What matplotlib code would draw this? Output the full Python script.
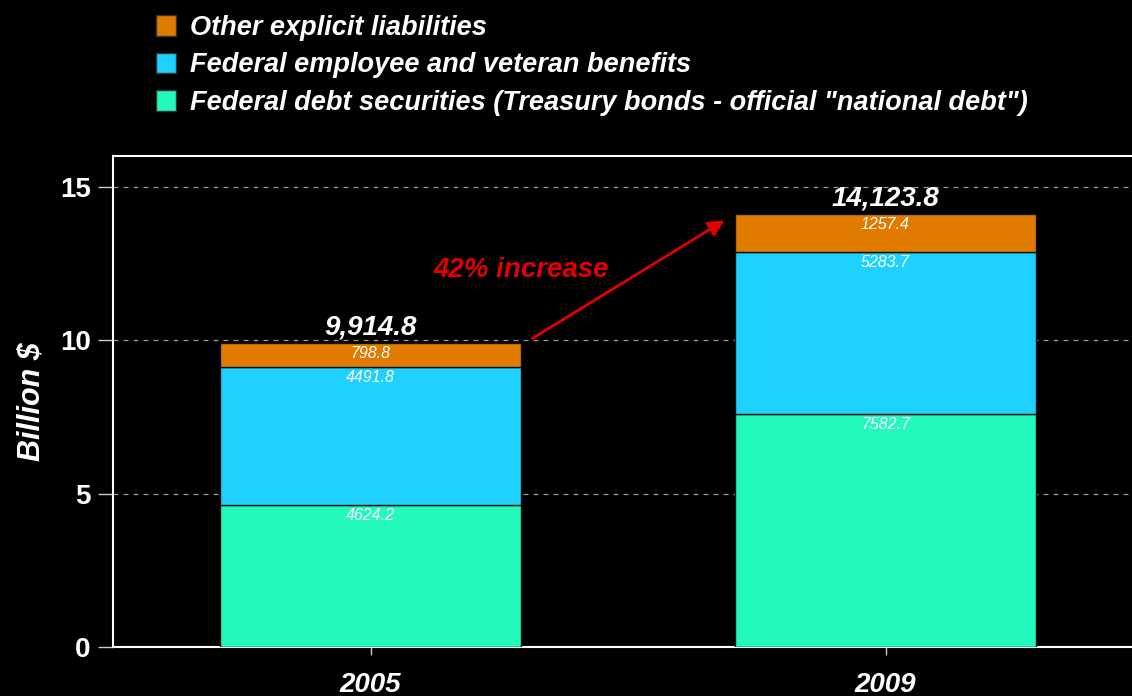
import matplotlib
matplotlib.use("Agg")
import matplotlib.pyplot as plt
from matplotlib.patches import Patch

years = ["2005", "2009"]
debt_securities = [4624.2, 7582.7]
employee_benefits = [4491.8, 5283.7]
other_liabilities = [798.8, 1257.4]
totals = [9914.8, 14123.8]
series_names = ["Federal debt securities (Treasury bonds - official \"national debt\")",
                "Federal employee and veteran benefits",
                "Other explicit liabilities"]
colors = ["#24F9BC", "#1ED1FF", "#E07B00"]

plt.rcParams['font.family'] = ['Liberation Sans', 'DejaVu Sans']

fig = plt.figure(figsize=(11.32, 6.96), dpi=100, facecolor="black")
ax = fig.add_axes([113/1132, 1-647/696, (1143-113)/1132, (647-156)/696])
ax.set_facecolor("black")

x = list(range(len(years)))
series = [debt_securities, employee_benefits, other_liabilities]
bottoms = [0.0] * len(years)
for vals, col in zip(series, colors):
    v = [a / 1000 for a in vals]
    ax.bar(x, v, bottom=bottoms, width=0.586, color=col, edgecolor="#111111",
           linewidth=1, zorder=3)
    for xi, b, h, raw in zip(x, bottoms, v, vals):
        ax.text(xi, b + h - 0.1, f"{raw:.1f}", ha="center", va="top",
                color="white", fontsize=11.5, style="italic", zorder=4)
    bottoms = [b + h for b, h in zip(bottoms, v)]

for xi, t in zip(x, totals):
    ax.text(xi, t / 1000 + 0.08, f"{t:,.1f}", ha="center", va="bottom",
            color="white", fontsize=20, fontweight="bold", style="italic", zorder=4)

ax.annotate("", xy=(0.692, 13.95), xytext=(0.31, 10.01),
            arrowprops=dict(arrowstyle="-|>", color="#E00000", lw=2,
                            mutation_scale=24), zorder=5)
ax.text(0.292, 12.29, "42% increase", color="#E00000", fontsize=20,
        fontweight="bold", style="italic", ha="center", va="center")

ax.set_xlim(-0.5, 1.5)
ax.set_ylim(0, 16)
ax.set_yticks([0, 5, 10, 15])
ax.set_yticklabels(["0", "5", "10", "15"])
ax.set_xticks(x)
ax.set_xticklabels(years)
ax.tick_params(axis="y", colors="#cccccc", length=11, width=1, labelsize=20,
               labelcolor="white", pad=5)
ax.tick_params(axis="x", colors="#cccccc", length=6, width=1, labelsize=20,
               labelcolor="white", pad=12)
for lab in ax.get_yticklabels():
    lab.set_fontweight("bold")
for lab in ax.get_xticklabels():
    lab.set_fontweight("bold")
    lab.set_style("italic")
ax.yaxis.grid(True, linestyle=(0, (4, 4)), color="#999999", linewidth=0.9, zorder=0)
ax.set_axisbelow(True)
for s in ["left", "top", "bottom", "right"]:
    ax.spines[s].set_color("white")
    ax.spines[s].set_linewidth(1.5)

ax.set_ylabel("Billion $", color="white", fontsize=22, fontweight="bold",
              style="italic", labelpad=10)

handles = [Patch(facecolor=c, edgecolor="#333333") for c in reversed(colors)]
leg = fig.legend(handles, list(reversed(series_names)), loc="upper left",
                 bbox_to_anchor=(156/1132, 1 - 15/696), frameon=False,
                 prop=dict(size=19.5, weight="bold", style="italic"),
                 labelcolor="white", handlelength=0.75, handleheight=0.78,
                 handletextpad=0.5, labelspacing=0.42, borderaxespad=0,
                 borderpad=0)

fig.savefig("out.png", dpi=100, facecolor="black")
